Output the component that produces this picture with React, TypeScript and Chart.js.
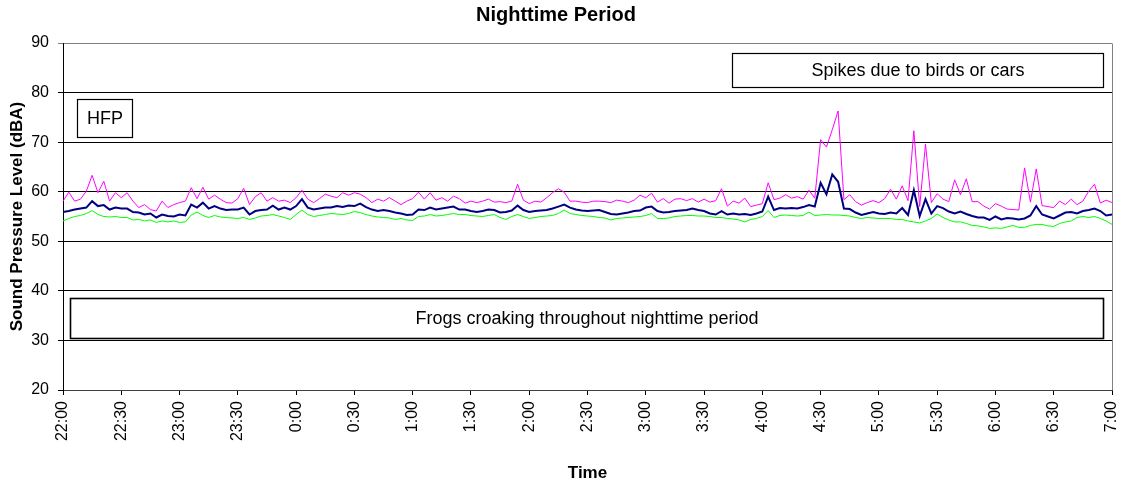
import React, { useEffect, useRef } from 'react';
import { Chart, registerables } from 'chart.js';

Chart.register(...registerables);

const FONT = '"Liberation Sans", Arial, Helvetica, sans-serif';

// x tick labels every 30 minutes (data sampled every 3 minutes)
const tickLabels = ['22:00', '22:30', '23:00', '23:30', '0:00', '0:30', '1:00', '1:30', '2:00', '2:30', '3:00', '3:30', '4:00', '4:30', '5:00', '5:30', '6:00', '6:30', '7:00'];
const stepMinutes = 3;
const startHour = 22;

// magenta (maximum level)
const lmax = [
  58.1, 59.9, 58.1, 58.5, 60.1, 63.3, 59.8, 62.1, 58.1, 59.8, 58.8, 59.8, 58.1, 56.8, 57.4, 56.4, 56.1, 58.1, 56.8, 57.4, 57.8, 58.1, 60.8,
  58.6, 60.9, 58.5, 59.3, 58.5, 57.8, 57.7, 58.6, 60.7, 57.4, 59.0, 59.8, 58.1, 58.8, 58.1, 58.3, 57.8, 58.8, 60.3, 58.5, 57.8, 58.6, 59.5,
  59.1, 58.8, 59.8, 59.3, 59.8, 59.5, 58.8, 57.8, 58.5, 58.1, 58.8, 58.1, 57.4, 58.1, 58.6, 59.9, 58.5, 59.8, 58.3, 58.8, 58.1, 59.1, 58.6,
  57.7, 58.1, 57.8, 58.1, 58.5, 57.9, 58.0, 57.8, 58.1, 61.5, 58.3, 57.6, 58.1, 57.9, 58.8, 59.8, 60.6, 59.9, 58.1, 58.1, 57.9, 57.8, 58.1, 58.1,
  58.0, 57.8, 58.3, 58.1, 57.8, 58.3, 59.3, 58.8, 59.7, 57.9, 58.6, 57.7, 58.5, 58.6, 58.2, 58.6, 57.9, 58.5, 57.9, 58.2, 60.6, 57.1, 58.1,
  57.7, 58.7, 57.0, 57.3, 57.6, 61.8, 58.4, 58.7, 59.4, 58.7, 59.0, 58.5, 60.3, 58.7, 70.5, 69.0, 72.5, 76.3, 58.4, 59.4, 58.0, 57.3, 57.8,
  58.2, 57.8, 58.6, 60.5, 58.5, 61.2, 58.2, 72.3, 57.0, 69.6, 57.8, 59.6, 58.5, 58.0, 62.4, 59.4, 62.6, 58.0, 58.0, 57.1, 56.5, 57.6, 57.1, 56.5,
  56.4, 56.3, 64.8, 57.9, 64.6, 57.2, 57.0, 56.8, 58.1, 57.4, 58.5, 57.4, 58.1, 60.1, 61.5, 57.7, 58.3, 57.8,
];

// navy (equivalent level)
const leq = [
  55.9, 56.1, 56.4, 56.6, 56.8, 58.1, 57.1, 57.3, 56.4, 56.8, 56.6, 56.6, 55.9, 55.8, 55.4, 55.6, 54.8, 55.4, 55.1, 55.0, 55.4, 55.2, 57.4,
  56.8, 57.8, 56.6, 57.1, 56.6, 56.3, 56.4, 56.4, 56.8, 55.4, 56.1, 56.3, 56.4, 57.2, 56.4, 56.8, 56.4, 57.1, 58.5, 56.8, 56.4, 56.6, 56.8,
  56.8, 57.1, 56.9, 57.2, 57.1, 57.6, 56.9, 56.4, 56.1, 56.3, 56.1, 55.8, 55.6, 55.3, 55.4, 56.4, 56.3, 56.8, 56.4, 56.6, 56.8, 57.0, 56.4,
  56.4, 56.1, 55.9, 56.1, 56.4, 56.3, 55.8, 55.9, 56.2, 57.2, 56.3, 55.9, 56.1, 56.2, 56.3, 56.6, 57.0, 57.4, 56.8, 56.4, 56.2, 56.1, 56.2, 56.3,
  55.9, 55.5, 55.4, 55.6, 55.8, 56.1, 56.2, 56.8, 57.0, 56.1, 55.8, 55.9, 56.1, 56.2, 56.3, 56.6, 56.3, 56.1, 55.6, 55.4, 56.1, 55.4, 55.6,
  55.4, 55.5, 55.3, 55.6, 56.0, 59.0, 56.3, 56.7, 56.6, 56.7, 56.6, 56.9, 57.3, 57.0, 61.8, 59.5, 63.5, 62.0, 56.6, 56.5, 55.8, 55.3, 55.6,
  55.9, 55.6, 55.5, 55.8, 55.6, 56.7, 55.3, 60.3, 55.1, 58.5, 55.6, 57.1, 56.7, 56.0, 55.6, 56.0, 55.5, 55.1, 54.8, 54.8, 54.3, 55.0, 54.4, 54.7,
  54.6, 54.4, 54.6, 55.2, 57.1, 55.4, 55.0, 54.6, 55.2, 55.8, 55.9, 55.6, 56.1, 56.3, 56.6, 56.1, 55.2, 55.4,
];

// green (background level)
const l90 = [
  54.1, 54.6, 55.0, 55.2, 55.6, 56.2, 55.4, 55.0, 54.9, 55.0, 54.8, 54.8, 54.3, 54.4, 54.1, 54.3, 53.8, 54.1, 53.9, 54.1, 53.8, 53.9, 55.3,
  55.9, 55.2, 54.8, 55.2, 54.9, 54.8, 54.7, 54.6, 54.8, 54.4, 54.7, 55.1, 55.2, 55.4, 55.1, 54.8, 54.4, 55.4, 56.3, 55.4, 55.0, 55.2, 55.4,
  55.6, 55.5, 55.4, 55.6, 56.0, 55.8, 55.4, 55.1, 54.9, 54.8, 54.7, 54.4, 54.6, 54.3, 54.2, 55.0, 55.1, 55.4, 55.1, 55.2, 55.4, 55.6, 55.4,
  55.4, 55.2, 55.1, 55.0, 55.2, 55.4, 54.8, 54.4, 55.0, 55.4, 55.0, 54.6, 54.8, 55.0, 55.1, 55.2, 55.6, 56.3, 55.6, 55.4, 55.2, 55.1, 55.0, 54.8,
  54.7, 54.3, 54.6, 54.7, 54.8, 54.9, 55.0, 55.2, 55.6, 54.6, 54.6, 54.7, 55.0, 55.1, 55.2, 55.2, 55.1, 55.1, 55.0, 54.8, 54.8, 54.6, 54.5,
  54.3, 53.9, 54.4, 54.6, 55.0, 56.2, 54.8, 55.2, 55.3, 55.2, 55.1, 55.2, 55.9, 55.2, 55.3, 55.4, 55.3, 55.3, 55.2, 55.1, 54.8, 54.6, 54.8,
  54.7, 54.6, 54.6, 54.6, 54.4, 54.4, 54.1, 53.9, 53.7, 54.1, 54.6, 55.5, 54.8, 54.3, 53.9, 53.9, 53.6, 53.2, 53.1, 52.9, 52.6, 52.7, 52.6, 52.9,
  53.2, 52.8, 52.8, 53.2, 53.4, 53.4, 53.1, 53.0, 53.6, 53.9, 54.1, 54.8, 55.0, 54.8, 55.0, 54.6, 54.1, 53.4,
];

// text boxes: x range in minutes after 22:00, y range in dBA
const boxTexts = ['HFP', 'Frogs croaking throughout nighttime period', 'Spikes due to birds or cars'];
const boxMinuteFrom = [7, 3.5, 344.5];
const boxMinuteTo = [35.5, 535.5, 535.5];
const boxDbFrom = [71.1, 30.5, 81.1];
const boxDbTo = [78.7, 38.5, 88.0];

const categories = lmax.map((_, i) => {
  const m = i * stepMinutes;
  const h = (startHour + Math.floor(m / 60)) % 24;
  const mm = m % 60;
  return `${h}:${mm < 10 ? '0' + mm : mm}`;
});

const framePlugin = {
  id: 'frameAndBoxes',
  beforeDatasetsDraw(chart: any) {
    const { ctx, chartArea } = chart;
    const ys = chart.scales.y;
    const topY = Math.round(ys.getPixelForValue(90)) + 0.5;
    ctx.save();
    ctx.strokeStyle = '#808080';
    ctx.lineWidth = 1;
    ctx.beginPath();
    ctx.moveTo(Math.round(chartArea.right) + 0.5, topY);
    ctx.lineTo(Math.round(chartArea.right) + 0.5, Math.round(chartArea.bottom));
    ctx.stroke();
    ctx.restore();
  },
  afterDatasetsDraw(chart: any) {
    const { ctx } = chart;
    const xs = chart.scales.x;
    const ys = chart.scales.y;
    ctx.save();
    boxTexts.forEach((t, i) => {
      const x0 = Math.round(xs.getPixelForValue(boxMinuteFrom[i] / stepMinutes)) + 0.5;
      const x1 = Math.round(xs.getPixelForValue(boxMinuteTo[i] / stepMinutes)) + 0.5;
      const y0 = Math.round(ys.getPixelForValue(boxDbTo[i])) + 0.5;
      const y1 = Math.round(ys.getPixelForValue(boxDbFrom[i])) + 0.5;
      ctx.fillStyle = '#ffffff';
      ctx.fillRect(x0, y0, x1 - x0, y1 - y0);
      ctx.strokeStyle = '#000000';
      ctx.lineWidth = i === 1 ? 1.6 : 1.2;
      ctx.strokeRect(x0, y0, x1 - x0, y1 - y0);
      ctx.fillStyle = '#000000';
      ctx.font = `18px ${FONT}`;
      ctx.textAlign = 'center';
      ctx.textBaseline = 'middle';
      ctx.fillText(t, (x0 + x1) / 2, (y0 + y1) / 2 + 1);
    });
    ctx.restore();
  },
};

export default function App() {
  const ref = useRef<HTMLCanvasElement | null>(null);

  useEffect(() => {
    if (!ref.current) return;
    const chart = new Chart(ref.current, {
      type: 'line',
      data: {
        labels: categories,
        datasets: [
          { label: 'Leq', data: leq, borderColor: '#000080', borderWidth: 2, pointRadius: 0, tension: 0, fill: false },
          { label: 'Lmax', data: lmax, borderColor: '#FF00FF', borderWidth: 1, pointRadius: 0, tension: 0, fill: false },
          { label: 'L90', data: l90, borderColor: '#00FF00', borderWidth: 1, pointRadius: 0, tension: 0, fill: false },
        ],
      },
      options: {
        animation: false,
        responsive: false,
        events: [],
        layout: { padding: { left: 0, right: 10, top: 0, bottom: 0 } },
        plugins: {
          legend: { display: false },
          tooltip: { enabled: false },
          title: {
            display: true,
            text: 'Nighttime Period',
            color: '#000000',
            font: { family: FONT, size: 20, weight: 'bold' },
            padding: { top: 3, bottom: 16 },
          },
        },
        scales: {
          x: {
            type: 'category',
            offset: false,
            grid: { display: true, drawOnChartArea: false, drawTicks: true, tickLength: 5, color: '#000000' },
            border: { display: true, color: '#404040', width: 1 },
            ticks: {
              autoSkip: false,
              maxRotation: 90,
              minRotation: 90,
              padding: 6,
              color: '#000000',
              font: { family: FONT, size: 16 },
              callback: (_v: any, i: number) => (i % 10 === 0 ? tickLabels[i / 10] : null),
            },
            title: {
              display: true,
              text: 'Time',
              color: '#000000',
              font: { family: FONT, size: 17, weight: 'bold' },
              padding: { top: 0, bottom: 3 },
            },
            afterFit: (s: any) => {
              s.height = 97;
              s.paddingLeft = 0;
              s.paddingRight = 0;
            },
          },
          y: {
            min: 20,
            max: 90,
            ticks: { stepSize: 10, padding: 9, color: '#000000', font: { family: FONT, size: 16 } },
            grid: {
              color: (c: any) => (c.tick && c.tick.value === 90 ? '#808080' : '#000000'),
              tickLength: 5,
              drawTicks: true,
            },
            border: { display: true, color: '#000000', width: 1 },
            title: {
              display: true,
              text: 'Sound Pressure Level (dBA)',
              color: '#000000',
              font: { family: FONT, size: 17, weight: 'bold' },
              padding: { top: 7, bottom: 0 },
            },
            afterFit: (s: any) => {
              s.width = 63;
              s.paddingTop = 0;
              s.paddingBottom = 0;
            },
          },
        },
      } as any,
      plugins: [framePlugin],
    });
    return () => chart.destroy();
  }, []);

  return (
    <div style={{ position: 'fixed', left: 0, top: 0, width: 1122, height: 487, background: '#ffffff' }}>
      <canvas ref={ref} width={1122} height={487} style={{ display: 'block' }} />
    </div>
  );
}
